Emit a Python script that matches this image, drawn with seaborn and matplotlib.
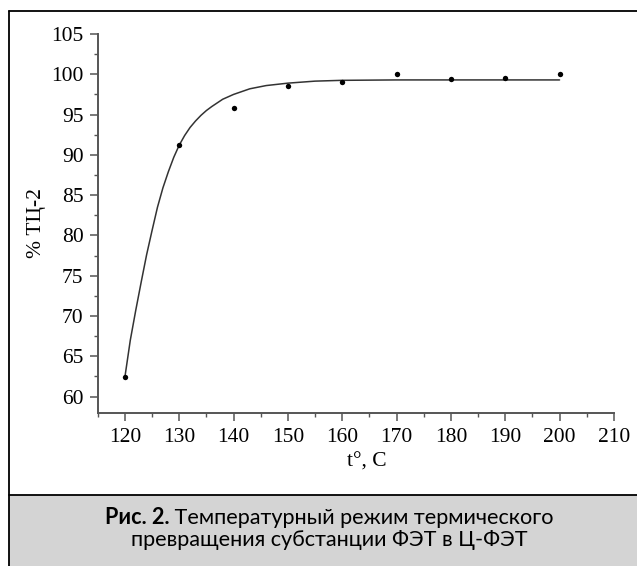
import matplotlib
matplotlib.use("Agg")
import matplotlib.pyplot as plt
from matplotlib.lines import Line2D
from matplotlib.patches import Rectangle
from matplotlib.ticker import MultipleLocator
import seaborn as sns
import pandas as pd

# measured points
temp = [120, 130, 140, 150, 160, 170, 180, 190, 200]
pct = [62.4, 91.2, 95.8, 98.6, 99.0, 100.0, 99.4, 99.5, 100.0]

# fitted curve
curve_t = [120, 121, 122, 123, 124, 125, 126, 127, 128, 129, 130, 131, 132,
           133, 134, 135, 136, 138, 140, 143, 146, 150, 155, 160, 170, 200]
curve_p = [62.4, 67.0, 70.7, 74.2, 77.6, 80.6, 83.5, 85.9, 87.9, 89.7, 91.2,
           92.4, 93.4, 94.2, 94.9, 95.5, 96.0, 96.9, 97.5, 98.2, 98.6, 98.9,
           99.15, 99.25, 99.3, 99.3]

x_ticks = [120, 130, 140, 150, 160, 170, 180, 190, 200, 210]
y_ticks = [60, 65, 70, 75, 80, 85, 90, 95, 100, 105]

x_label = "t°, C"
y_label = "% ТЦ-2"
cap_bold = "Рис. 2."
cap_line1 = " Температурный режим термического"
cap_line2 = "превращения субстанции ФЭТ в Ц-ФЭТ"

sns.set_theme(style="ticks")
plt.rcParams["font.family"] = ["Liberation Serif", "DejaVu Serif"]
plt.rcParams["text.color"] = "black"
plt.rcParams["axes.labelcolor"] = "black"

W, H = 637, 566
fig = plt.figure(figsize=(W / 100, H / 100), dpi=100)
fig.patch.set_facecolor("white")

ax = fig.add_axes([97.7 / W, 1 - 412.7 / H, (613.9 - 97.7) / W, (412.7 - 34) / H])

pts = pd.DataFrame({"t": temp, "p": pct})
crv = pd.DataFrame({"t": curve_t, "p": curve_p})
sns.lineplot(data=crv, x="t", y="p", ax=ax, color="#333333", lw=1.1,
             sort=False, estimator=None)
sns.scatterplot(data=pts, x="t", y="p", ax=ax, color="black", s=15,
                edgecolor="black", linewidth=0, zorder=3)

ax.set_xlim(115, 210)
ax.set_ylim(58, 105)
ax.set_xticks(x_ticks)
ax.set_yticks(y_ticks)
ax.xaxis.set_minor_locator(MultipleLocator(5))
ax.yaxis.set_minor_locator(MultipleLocator(2.5))
sns.despine(ax=ax)
for s in ["left", "bottom"]:
    ax.spines[s].set_color("#555555")
    ax.spines[s].set_linewidth(1.4)
ax.tick_params(which="major", direction="out", length=5.8, width=1.1,
               color="#555555", labelsize=15.5, labelcolor="black")
ax.tick_params(axis="y", which="major", pad=4.5)
ax.tick_params(axis="x", which="major", pad=5)
ax.tick_params(which="minor", direction="out", length=2.8, width=1.0,
               color="#555555")
ax.set_facecolor("white")

ax.set_xlabel(x_label, fontsize=15.5, color="black")
ax.set_ylabel(y_label, fontsize=15.5, color="black")
ax.xaxis.set_label_coords(0.522, -0.106)
ax.yaxis.set_label_coords(-0.10, 0.5)

# frame and caption panel
fig.add_artist(Rectangle((8.5 / W, 0), 1, 1 - 495 / H, transform=fig.transFigure,
                         facecolor="#d4d4d4", edgecolor="none", zorder=0))
fig.add_artist(Line2D([8.5 / W, 1], [1 - 11 / H, 1 - 11 / H], color="black", lw=1.3))
fig.add_artist(Line2D([8.5 / W, 8.5 / W], [0, 1 - 11 / H], color="black", lw=1.3))
fig.add_artist(Line2D([8.5 / W, 1], [1 - 495 / H, 1 - 495 / H], color="black", lw=1.3))

cap_font = ["Lato", "DejaVu Sans"]
cx = 329 / W
fs = 15.6
t_b = fig.text(0, 1 - 524.5 / H, cap_bold, fontsize=fs, fontweight="bold",
               family=cap_font, va="baseline", ha="left", color="black")
t_r = fig.text(0, 1 - 524.5 / H, cap_line1, fontsize=fs, family=cap_font,
               va="baseline", ha="left", color="black")
fig.canvas.draw()
r = fig.canvas.get_renderer()
wb = t_b.get_window_extent(r).width / W
wr = t_r.get_window_extent(r).width / W
x0 = cx - (wb + wr) / 2
t_b.set_x(x0)
t_r.set_x(x0 + wb)
fig.text(cx, 1 - 546.5 / H, cap_line2, fontsize=fs, family=cap_font,
         va="baseline", ha="center", color="black")

fig.savefig("out.png", dpi=100)
